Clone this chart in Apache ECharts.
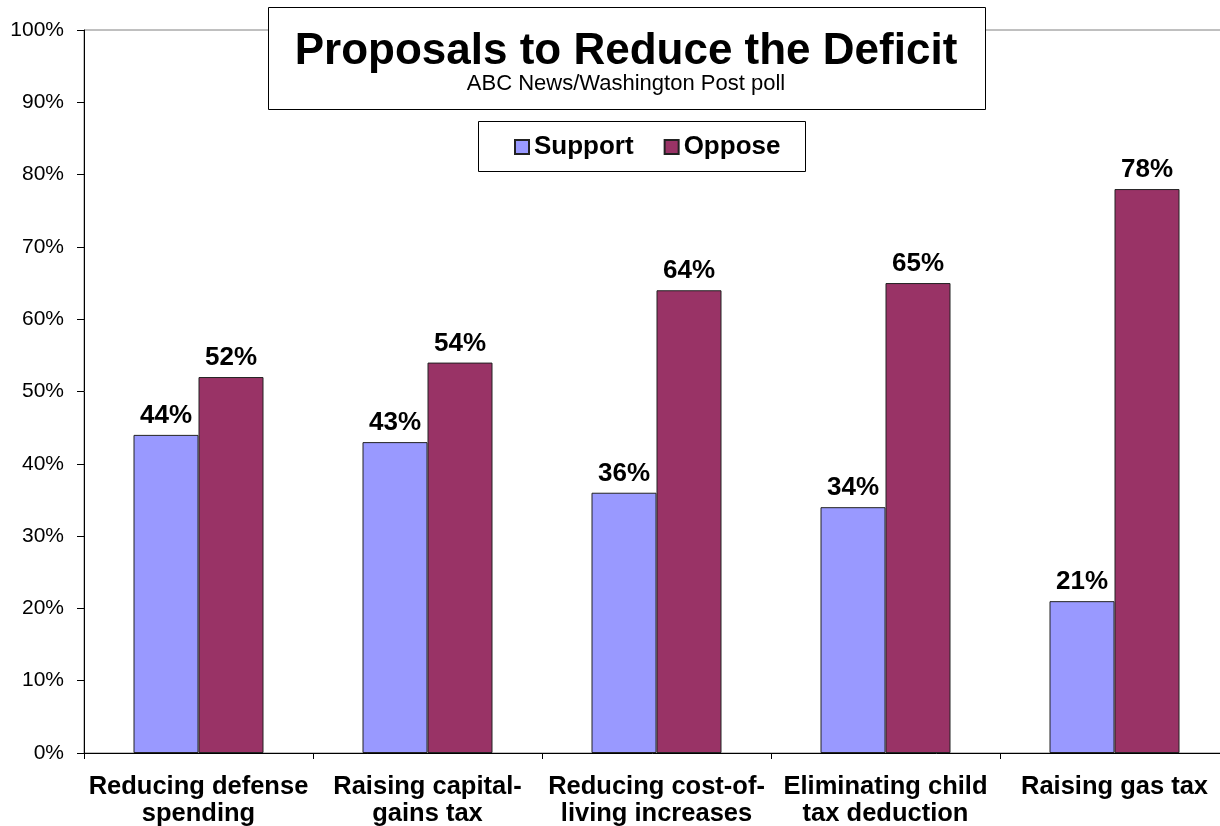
<!DOCTYPE html>
<html>
<head>
<meta charset="utf-8">
<script src="https://cdn.jsdelivr.net/npm/echarts@6/dist/echarts.min.js"></script>
<style>
    html, body { margin: 0; padding: 0; background: #fff; }
    #main { width: 1220px; height: 826px; }
</style>
</head>
<body>
<div id="main"></div>
<script>
var categories = ['Reducing defense\nspending', 'Raising capital-\ngains tax', 'Reducing cost-of-\nliving increases', 'Eliminating child\ntax deduction', 'Raising gas tax'];
var support = [44, 43, 36, 34, 21];
var oppose = [52, 54, 64, 65, 78];
var yTicks = [0, 10, 20, 30, 40, 50, 60, 70, 80, 90, 100];

var fontName = '"Liberation Sans", Arial, sans-serif';

var myChart = echarts.init(document.getElementById('main'));

var labelStyle = {
    show: true,
    position: 'top',
    distance: 6,
    formatter: '{c}%',
    fontFamily: fontName,
    fontWeight: 'bold',
    fontSize: 26,
    color: '#000'
};

var option = {
    animation: false,
    backgroundColor: '#fff',
    title: [
        {
            text: 'Proposals to Reduce the Deficit',
            left: 626,
            textAlign: 'center',
            top: 30,
            padding: 0,
            z: 10,
            textStyle: {
                fontFamily: fontName,
                fontWeight: 'bold',
                fontSize: 44,
                color: '#000'
            }
        },
        {
            text: 'ABC News/Washington Post poll',
            left: 626,
            textAlign: 'center',
            top: 73,
            padding: 0,
            z: 10,
            textStyle: {
                fontFamily: fontName,
                fontWeight: 'normal',
                fontSize: 22,
                color: '#000'
            }
        }
    ],
    legend: {
        data: ['Support', 'Oppose'],
        left: 514,
        top: 134,
        padding: 0,
        itemGap: 30,
        itemWidth: 14,
        itemHeight: 14,
        icon: 'rect',
        z: 10,
        textStyle: {
            fontFamily: fontName,
            fontWeight: 'bold',
            fontSize: 26,
            color: '#000'
        }
    },
    graphic: [
        {
            type: 'rect',
            z: 5,
            shape: { x: 268.5, y: 7.5, width: 717, height: 102 },
            style: { fill: '#fff', stroke: '#000', lineWidth: 1 }
        },
        {
            type: 'rect',
            z: 5,
            shape: { x: 478.5, y: 121.5, width: 327, height: 50 },
            style: { fill: '#fff', stroke: '#000', lineWidth: 1 }
        }
    ],
    grid: {
        left: 84,
        top: 30,
        width: 1145,
        height: 723,
        outerBoundsMode: 'none',
        show: true,
        borderColor: '#808080',
        borderWidth: 1,
        backgroundColor: 'transparent'
    },
    xAxis: {
        type: 'category',
        data: categories,
        axisLine: { lineStyle: { color: '#000', width: 1 } },
        axisTick: { show: true, length: 6, lineStyle: { color: '#000' } },
        axisLabel: {
            interval: 0,
            margin: 20,
            fontFamily: fontName,
            fontWeight: 'bold',
            fontSize: 25.5,
            lineHeight: 27,
            color: '#000'
        },
        splitLine: { show: false }
    },
    yAxis: {
        type: 'value',
        min: yTicks[0],
        max: yTicks[yTicks.length - 1],
        interval: 10,
        axisLine: { show: true, lineStyle: { color: '#000', width: 1 } },
        axisTick: { show: true, length: 7, lineStyle: { color: '#000' } },
        axisLabel: {
            margin: 20,
            formatter: '{value}%',
            fontFamily: fontName,
            fontSize: 21,
            color: '#000'
        },
        splitLine: { show: false }
    },
    series: [
        {
            name: 'Support',
            type: 'bar',
            data: support,
            barWidth: 65,
            barGap: '0%',
            itemStyle: { color: '#9999FF', borderColor: '#222', borderWidth: 1 },
            label: labelStyle
        },
        {
            name: 'Oppose',
            type: 'bar',
            data: oppose,
            barWidth: 65,
            barGap: '0%',
            itemStyle: { color: '#993366', borderColor: '#222', borderWidth: 1 },
            label: labelStyle
        }
    ]
};
myChart.setOption(option);
</script>
</body>
</html>
